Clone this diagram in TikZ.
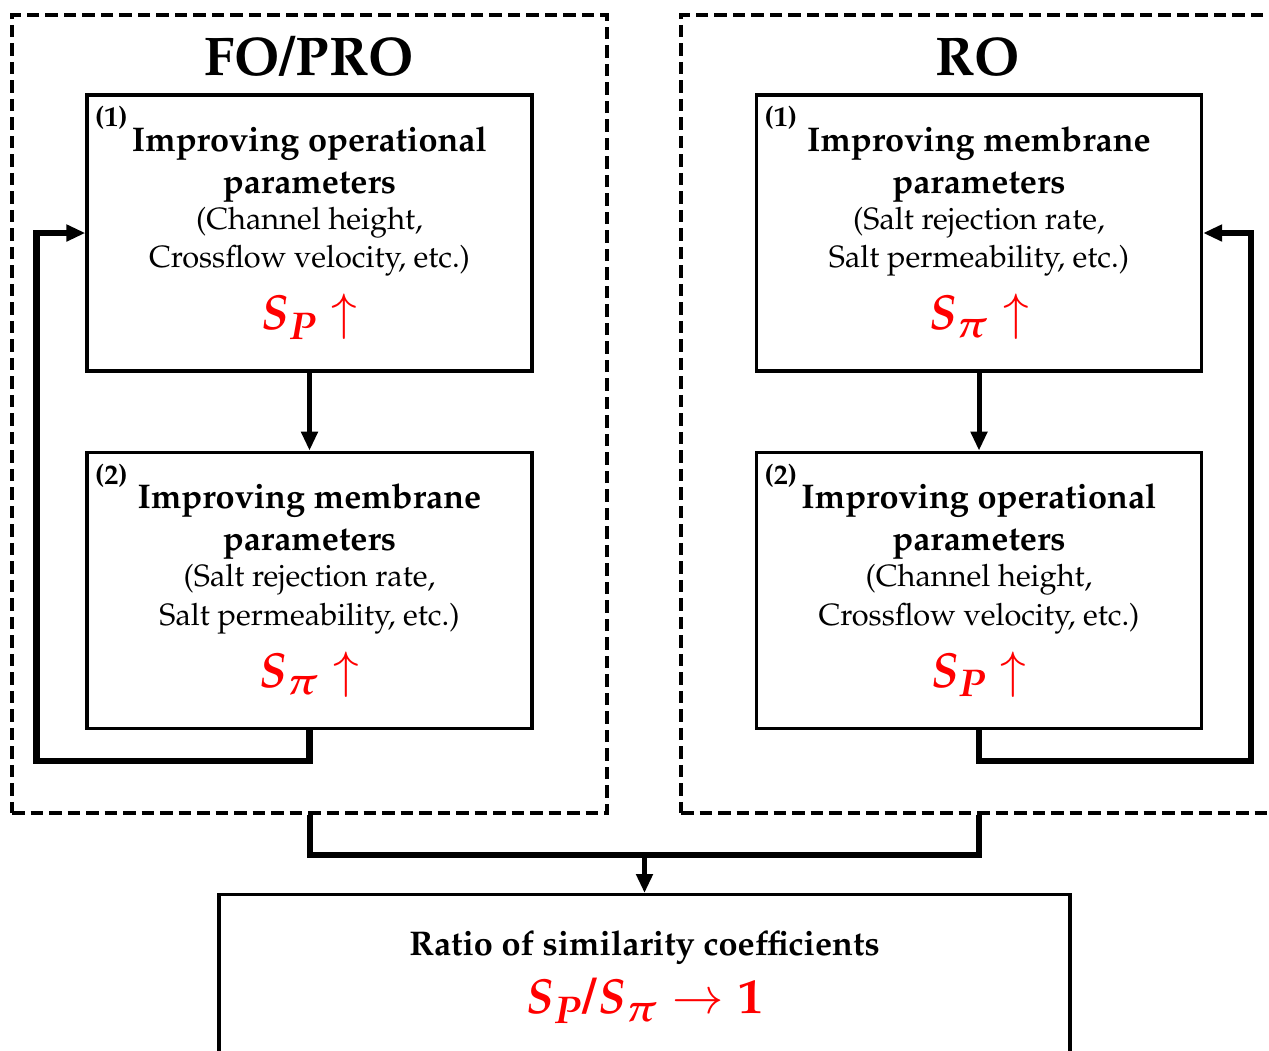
\documentclass[tikz,border=0pt]{standalone}
\usepackage[T1]{fontenc}
\usepackage{mathpazo}
\usepackage{amsmath}
\usepackage{bm}
\usepackage{xcolor}
\usepackage{tikz}
\usetikzlibrary{positioning, arrows.meta}
\definecolor{coefred}{RGB}{255,0,0}
\DeclareMathSizes{28}{28}{22}{17}
\newcommand{\headfont}{\fontsize{19.5}{22}\selectfont\bfseries}
\newcommand{\coef}[1]{{\color{coefred}\fontsize{28}{30}\selectfont $#1$}}

\begin{document}
\begin{tikzpicture}[
  frame/.style={rectangle, draw, line width=0.08cm, dash pattern=on 0.25cm off 0.12cm, minimum width=11.9cm, minimum height=15.96cm},
  box/.style={rectangle, draw, line width=0.065cm, minimum width=8.9cm, minimum height=5.52cm, align=center, font=\fontsize{17.5}{22}\selectfont},
  title/.style={font=\fontsize{31}{34}\selectfont\bfseries, anchor=base},
  num/.style={font=\fontsize{16}{18}\selectfont\bfseries, inner sep=0pt},
  loopline/.style={line width=0.13cm, -{Triangle[length=0.38cm, width=0.32cm]}},
  joinline/.style={line width=0.12cm},
  node distance=1.56cm
]
\useasboundingbox (0,0) rectangle (25.38,-21);

% dashed groups
\node[frame] (lframe) at (6.19,-8.28) {};
\node[frame] (rframe) at (19.57,-8.28) {};
\node[title] (ltitle) at (6.18,-1.5) {FO/PRO};
\node[title] (rtitle) at (19.56,-1.5) {RO};

% FO/PRO side
\node[box] (l1) at (6.19,-4.66) {{\headfont Improving operational}\\[2pt] {\headfont parameters}\\[-1.5pt] (Channel height,\\ Crossflow velocity, etc.)\\[9pt]
  \coef{\bm{S_P}\uparrow}};
\node[box, below=of l1] (l2) {{\headfont Improving membrane}\\[2pt] {\headfont parameters}\\[-1.5pt] (Salt rejection rate,\\ Salt permeability, etc.)\\[9pt]
  \coef{\bm{S_\pi}\uparrow}};
\node[num] (l1num) at ([shift={(0.52,-0.5)}]l1.north west) {(1)};
\node[num] (l2num) at ([shift={(0.52,-0.5)}]l2.north west) {(2)};

% RO side
\node[box] (r1) at (19.58,-4.66) {{\headfont Improving membrane}\\[2pt] {\headfont parameters}\\[-1.5pt] (Salt rejection rate,\\ Salt permeability, etc.)\\[9pt]
  \coef{\bm{S_\pi}\uparrow}};
\node[box, below=of r1] (r2) {{\headfont Improving operational}\\[2pt] {\headfont parameters}\\[-1.5pt] (Channel height,\\ Crossflow velocity, etc.)\\[9pt]
  \coef{\bm{S_P}\uparrow}};
\node[num] (r1num) at ([shift={(0.52,-0.5)}]r1.north west) {(1)};
\node[num] (r2num) at ([shift={(0.52,-0.5)}]r2.north west) {(2)};

% result
\node[box, anchor=north, minimum width=17.02cm, minimum height=3.3cm] (ratio) at (12.89,-17.86)
  {{\headfont Ratio of similarity coefficients}\\[7pt]
  \coef{\bm{S_P/S_\pi}\rightarrow\bm{1}}};

\draw[loopline, line width=0.1cm] (l1) -- (l2);
\draw[loopline, line width=0.1cm] (r1) -- (r2);
\draw[loopline] (l2.south) -- ++(0,-0.62) -| ([xshift=-0.98cm]l1.west) -- (l1.west);
\draw[loopline] (r2.south) -- ++(0,-0.62) -| ([xshift=0.96cm]r1.east) -- (r1.east);

\draw[joinline] (lframe.south) -- ++(0,-0.8) coordinate (lmid) -| (rframe.south);
\draw[loopline, line width=0.1cm] (ratio.north |- lmid) -- (ratio.north);
\end{tikzpicture}
\end{document}
